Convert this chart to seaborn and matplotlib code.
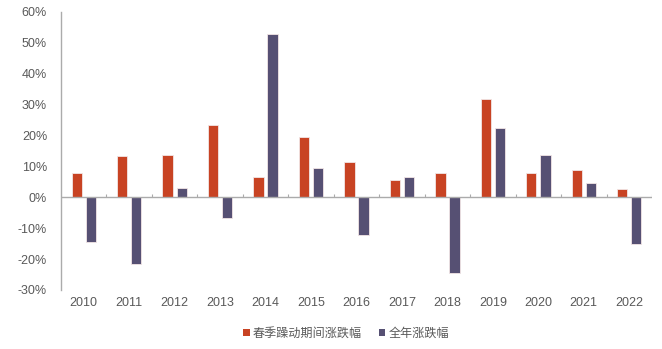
import matplotlib
matplotlib.use("Agg")
import matplotlib.pyplot as plt
from matplotlib.ticker import FuncFormatter, MultipleLocator
from matplotlib.patches import Patch
import seaborn as sns
import pandas as pd

years = ["2010", "2011", "2012", "2013", "2014", "2015", "2016",
         "2017", "2018", "2019", "2020", "2021", "2022"]
spring_rally = [7.8, 13.4, 13.8, 23.5, 6.7, 19.4, 11.4, 5.5, 7.8, 31.7, 8.0, 8.8, 2.8]
full_year = [-14.4, -21.6, 3.1, -6.7, 52.8, 9.4, -12.3, 6.5, -24.5, 22.3, 13.8, 4.8, -15.1]
series_names = ["春季躁动期间涨跌幅", "全年涨跌幅"]
colors = ["#C84323", "#565073"]

df = pd.DataFrame({
    "year": years * 2,
    "value": spring_rally + full_year,
    "series": [series_names[0]] * len(years) + [series_names[1]] * len(years),
})

sns.set_theme(style="white")
plt.rcParams["font.family"] = ["Liberation Sans", "Noto Sans CJK SC", "DejaVu Sans"]

fig = plt.figure(figsize=(6.62, 3.49), dpi=100)
ax = fig.add_axes([61 / 662, 1 - 290 / 349, (652 - 61) / 662, (290 - 12) / 349])

sns.barplot(data=df, x="year", y="value", hue="series", palette=colors,
            width=0.62, gap=0.27, ax=ax, legend=False,
            edgecolor="#f2e6e6", linewidth=0.6, saturation=1)

ax.set_ylim(-30, 60)
ax.set_xlim(-0.5, len(years) - 0.5)
ax.yaxis.set_major_locator(MultipleLocator(10))
ax.yaxis.set_major_formatter(FuncFormatter(lambda v, _: f"{v:.0f}%"))
ax.set_xlabel("")
ax.set_ylabel("")

for s in ["top", "right", "bottom"]:
    ax.spines[s].set_visible(False)
ax.spines["left"].set_color("#ababab")
ax.spines["left"].set_linewidth(1.0)

ax.tick_params(axis="y", direction="in", length=3, width=0.8, color="#ababab",
               labelsize=9, labelcolor="#595959", pad=10)
ax.tick_params(axis="x", length=0, labelsize=9, labelcolor="#595959", pad=5)

# zero baseline with short category dividers
ax.axhline(0, color="#ababab", linewidth=1.0, zorder=3)
for b in range(1, len(years) + 1):
    ax.plot([b - 0.5, b - 0.5], [0, 1.0], color="#ababab", linewidth=0.8,
            solid_capstyle="butt", zorder=3)

handles = [Patch(facecolor=c, edgecolor="none") for c in colors]
fig.legend(handles, series_names, loc="center", bbox_to_anchor=(346 / 662, 1 - 333 / 349),
           ncol=2, frameon=False, fontsize=8.7, handlelength=0.55, handleheight=0.55,
           handletextpad=0.25, columnspacing=1.4, labelcolor="#595959",
           prop={"family": ["Noto Sans CJK SC", "DejaVu Sans"], "size": 8.7})

fig.savefig("out.png", dpi=100)
